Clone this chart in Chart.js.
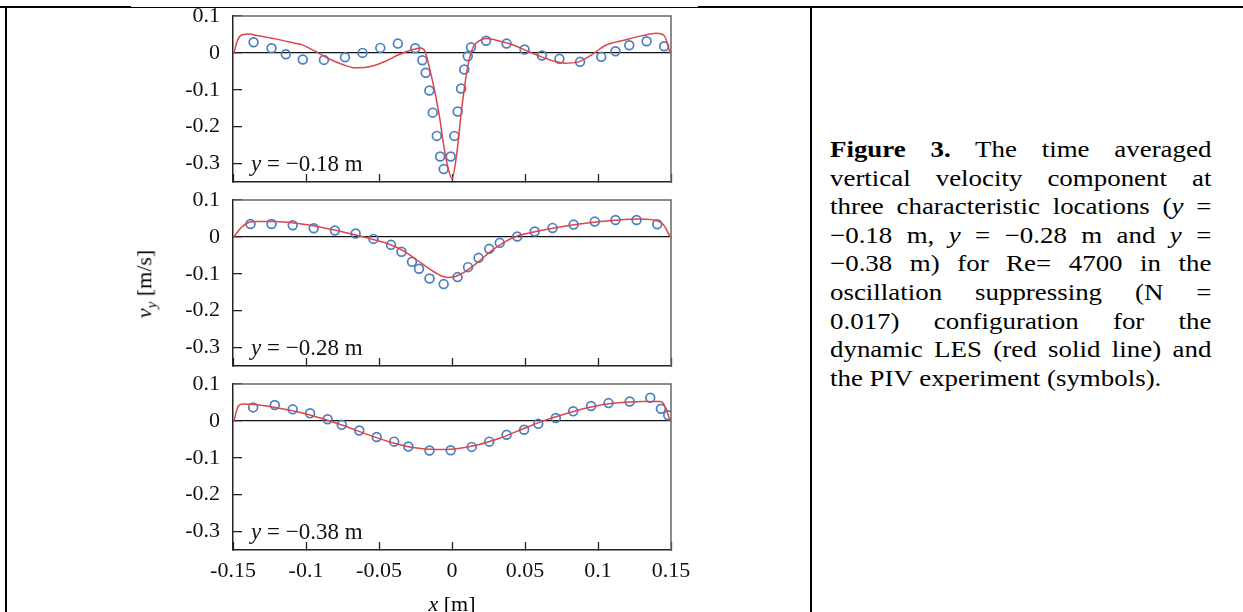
<!DOCTYPE html>
<html>
<head>
<meta charset="utf-8">
<title>Figure 3 - time averaged vertical velocity</title>
<script src="https://cdn.jsdelivr.net/npm/chart.js@4.4.1/dist/chart.umd.min.js"></script>
<style>
  html, body { margin: 0; padding: 0; background: #fff; }
  body {
    position: relative; width: 1243px; height: 612px; overflow: hidden;
    font-family: "Liberation Serif", "Times New Roman", serif; color: #000;
  }
  .rule { position: absolute; background: #000; }
  canvas.panel { position: absolute; left: 0; }
  #ylabel {
    position: absolute; left: 146px; top: 284px; font-size: 22px; white-space: nowrap;
    transform: translate(-50%, -50%) rotate(-90deg);
  }
  #xlabel {
    position: absolute; left: 452px; top: 604px; font-size: 22px; white-space: nowrap;
    transform: translate(-50%, -50%);
  }
  #caption {
    position: absolute; left: 830px; top: 136px; width: 326px;
    font-size: 23px; line-height: 28.6px;
    transform: scaleX(1.17); transform-origin: 0 0;
  }
  #caption div { text-align: justify; text-align-last: justify; }
  #caption div.last { text-align-last: left; }
</style>
</head>
<body>

<!-- table borders -->
<div class="rule" style="left:0; top:6px; width:131px; height:2px;"></div>
<div class="rule" style="left:131px; top:7px; width:567px; height:1px;"></div>
<div class="rule" style="left:698px; top:6px; width:545px; height:2px;"></div>
<div class="rule" style="left:5px; top:6px; width:2px; height:606px;"></div>
<div class="rule" style="left:810px; top:6px; width:2px; height:606px;"></div>

<!-- each canvas starts 40px above its plot box (room for the tick label padding) -->
<canvas id="panel1" class="panel" width="720" height="246" style="top:-24px;"></canvas>
<canvas id="panel2" class="panel" width="720" height="246" style="top:160px;"></canvas>
<canvas id="panel3" class="panel" width="720" height="268" style="top:344px;"></canvas>

<div id="ylabel"><i>v</i><sub style="font-size:15px;"><i>y</i></sub> [m/s]</div>
<div id="xlabel"><i>x</i> [m]</div>

<div id="caption">
  <div><b>Figure 3.</b> The time averaged</div>
  <div>vertical velocity component at</div>
  <div>three characteristic locations (<i>y</i> =</div>
  <div>−0.18 m, <i>y</i> = −0.28 m and <i>y</i> =</div>
  <div>−0.38 m) for Re= 4700 in the</div>
  <div>oscillation suppressing (N =</div>
  <div>0.017) configuration for the</div>
  <div>dynamic LES (red solid line) and</div>
  <div class="last">the PIV experiment (symbols).</div>
</div>

<script>
// axis ticks
const xTicks = [-0.15, -0.1, -0.05, 0, 0.05, 0.1, 0.15];
const xTickLabels = ['-0.15', '-0.1', '-0.05', '0', '0.05', '0.1', '0.15'];
const yTicks = [-0.3, -0.2, -0.1, 0, 0.1];
const yTickLabels = ['-0.3', '-0.2', '-0.1', '0', '0.1'];

// y = -0.18 m : LES line and PIV symbols
const lesX1 = [-0.1494, -0.1465, -0.143, -0.139, -0.1336, -0.121, -0.1085, -0.102, -0.0959, -0.0896,
  -0.0833, -0.0739, -0.0675, -0.0645, -0.055, -0.0456, -0.0362, -0.0267, -0.0215, -0.0185,
  -0.015, -0.0116, -0.0085, -0.006, -0.0025, 0, 0.0032, 0.0066, 0.01, 0.0134,
  0.017, 0.0203, 0.0236, 0.033, 0.0425, 0.0519, 0.0613, 0.0708, 0.077, 0.0865,
  0.0959, 0.1053, 0.1179, 0.1305, 0.1399, 0.1453, 0.1494];
const lesY1 = [0, 0.038, 0.05, 0.051, 0.047, 0.038, 0.027, 0.021, 0.009, -0.0045,
  -0.018, -0.033, -0.04, -0.0405, -0.036, -0.0225, -0.0045, 0.009, 0.0135, 0.004,
  -0.048, -0.108, -0.175, -0.243, -0.315, -0.342, -0.275, -0.153, -0.054, 0.006,
  0.028, 0.036, 0.0387, 0.0315, 0.0207, 0.0045, -0.0108, -0.0234, -0.028, -0.0243,
  -0.0045, 0.0207, 0.0342, 0.0468, 0.053, 0.047, 0];
const pivX1 = [-0.1359, -0.1236, -0.1138, -0.1022, -0.0877, -0.0733, -0.0613, -0.0491, -0.0371, -0.0252,
  -0.0203, -0.018, -0.0155, -0.0132, -0.0104, -0.0081, -0.0057, -0.0009, 0.0016, 0.0039,
  0.0062, 0.0084, 0.0108, 0.013, 0.0233, 0.0374, 0.0497, 0.0616, 0.0736, 0.0877,
  0.1022, 0.112, 0.1214, 0.1333, 0.1453];
const pivY1 = [0.0288, 0.0126, -0.0036, -0.018, -0.019, -0.0117, 0, 0.0135, 0.0252, 0.0126,
  -0.02, -0.054, -0.102, -0.162, -0.225, -0.281, -0.315, -0.281, -0.225, -0.159,
  -0.0965, -0.045, -0.009, 0.015, 0.033, 0.0252, 0.009, -0.0072, -0.0162, -0.0243,
  -0.0108, 0.0045, 0.0207, 0.0315, 0.018];

// y = -0.28 m
const lesX2 = [-0.1494, -0.1447, -0.14, -0.1336, -0.121, -0.1053, -0.0896, -0.0739, -0.0582, -0.0425,
  -0.033, -0.0236, -0.0142, -0.0079, -0.0031, 0.0016, 0.0079, 0.0173, 0.0267, 0.0362,
  0.0456, 0.0582, 0.0739, 0.0928, 0.1116, 0.1274, 0.1368, 0.1447, 0.1494];
const lesY2 = [0, 0.0243, 0.0378, 0.0414, 0.0414, 0.036, 0.026, 0.0126, -0.0027, -0.0207,
  -0.0387, -0.064, -0.09, -0.1045, -0.11, -0.108, -0.097, -0.07, -0.0387, -0.0135,
  0.0036, 0.0153, 0.027, 0.0378, 0.045, 0.0486, 0.0468, 0.0333, 0];
const pivX2 = [-0.138, -0.1236, -0.1091, -0.0947, -0.0802, -0.066, -0.0538, -0.0418, -0.0346, -0.0274,
  -0.0226, -0.0154, -0.0057, 0.0038, 0.011, 0.0182, 0.0255, 0.0327, 0.0447, 0.0566,
  0.0689, 0.0833, 0.0978, 0.112, 0.1264, 0.1406];
const pivY2 = [0.035, 0.035, 0.0315, 0.0234, 0.0171, 0.009, -0.0054, -0.0216, -0.0405, -0.0676,
  -0.0865, -0.1126, -0.128, -0.109, -0.082, -0.0568, -0.0324, -0.0162, 0.0009, 0.0144,
  0.0243, 0.0333, 0.0414, 0.0459, 0.0459, 0.0342];

// y = -0.38 m
const lesX3 = [-0.1494, -0.1462, -0.1431, -0.1336, -0.1211, -0.1053, -0.0896, -0.0739, -0.0582, -0.0425,
  -0.0267, -0.011, 0.0016, 0.0173, 0.033, 0.0487, 0.0645, 0.0802, 0.0959, 0.1116,
  0.1305, 0.1431, 0.1462, 0.1494];
const lesY3 = [0, 0.041, 0.0455, 0.0438, 0.0366, 0.0241, 0.0071, -0.0134, -0.0366, -0.0571,
  -0.0723, -0.0777, -0.0759, -0.0652, -0.0464, -0.0214, 0.0027, 0.0223, 0.0384, 0.0482,
  0.0527, 0.0527, 0.0366, 0];
const pivX3 = [-0.1362, -0.1214, -0.1091, -0.0972, -0.0852, -0.0755, -0.0635, -0.0516, -0.0396, -0.0299,
  -0.0154, -0.0009, 0.0135, 0.0255, 0.0374, 0.0494, 0.0591, 0.0711, 0.083, 0.0953,
  0.1072, 0.1217, 0.1358, 0.1431, 0.1481];
const pivY3 = [0.0366, 0.0429, 0.0313, 0.0205, 0.0045, -0.0107, -0.0259, -0.0438, -0.0563, -0.0696,
  -0.0804, -0.0795, -0.0705, -0.0563, -0.0375, -0.0241, -0.008, 0.008, 0.0259, 0.0402,
  0.0482, 0.0527, 0.0625, 0.033, 0.0152];

const serif = '"Liberation Serif", "Times New Roman", serif';
const PAD = 40;      // space above the plot box inside each canvas
const BOX_H = 166;   // plot box height

// top/right frame edges + the "y = ..." label inside each panel
const framePlugin = {
  id: 'frame',
  afterDraw(chart, args, opts) {
    const ctx = chart.ctx;
    const a = chart.chartArea;
    ctx.save();
    ctx.strokeStyle = '#666';
    ctx.lineWidth = 1.5;
    ctx.beginPath();
    ctx.moveTo(a.left, a.top);
    ctx.lineTo(a.right, a.top);
    ctx.lineTo(a.right, a.bottom);
    ctx.stroke();

    const x0 = a.left + 18;
    const y0 = a.bottom - 17;
    ctx.fillStyle = '#111';
    ctx.textBaseline = 'middle';
    ctx.font = 'italic 23px ' + serif;
    ctx.fillText('y', x0, y0);
    const w = ctx.measureText('y').width;
    ctx.font = '23px ' + serif;
    ctx.fillText(' = ' + opts.label, x0 + w, y0);
    ctx.restore();
  }
};

function toPoints(xs, ys) {
  return xs.map((x, i) => ({ x: x, y: ys[i] }));
}

function makePanel(id, lesX, lesY, pivX, pivY, label, showXLabels) {
  const canvas = document.getElementById(id);
  const xAxisHeight = canvas.height - PAD - BOX_H;

  return new Chart(canvas, {
    data: {
      datasets: [
        {
          type: 'line',
          label: 'LES',
          data: toPoints(lesX, lesY),
          borderColor: '#dc454c',
          borderWidth: 1.5,
          pointRadius: 0,
          cubicInterpolationMode: 'monotone',
          fill: false
        },
        {
          type: 'scatter',
          label: 'PIV',
          data: toPoints(pivX, pivY),
          borderColor: '#4a7fc1',
          backgroundColor: 'rgba(0,0,0,0)',
          borderWidth: 1.7,
          pointRadius: 4.4,
          pointStyle: 'circle'
        }
      ]
    },
    options: {
      responsive: false,
      animation: false,
      events: [],
      layout: { padding: { left: 0, top: PAD, right: 49, bottom: 0 } },
      plugins: {
        legend: { display: false },
        tooltip: { enabled: false },
        frame: { label: label }
      },
      scales: {
        x: {
          type: 'linear',
          min: -0.15,
          max: 0.15,
          afterBuildTicks: function (scale) {
            scale.ticks = xTicks.map(v => ({ value: v }));
          },
          afterFit: function (scale) {
            scale.height = xAxisHeight;
          },
          grid: { drawOnChartArea: false, tickLength: -8, tickColor: '#222', tickWidth: 1.3 },
          border: { color: '#222', width: 1.5 },
          ticks: {
            display: showXLabels,
            autoSkip: false,
            maxRotation: 0,
            padding: 16,
            color: '#111',
            font: { family: serif, size: 22 },
            callback: v => xTickLabels[xTicks.indexOf(v)]
          }
        },
        y: {
          type: 'linear',
          min: -0.35,
          max: 0.1,
          afterBuildTicks: function (scale) {
            scale.ticks = yTicks.map(v => ({ value: v }));
          },
          afterFit: function (scale) {
            scale.width = 233;
          },
          grid: {
            color: c => (c.tick && c.tick.value === 0 ? '#111' : 'rgba(0,0,0,0)'),
            lineWidth: 1.3,
            tickLength: -9,
            tickColor: '#222',
            tickWidth: 1.3
          },
          border: { color: '#222', width: 1.5 },
          ticks: {
            padding: 22,
            color: '#111',
            font: { family: serif, size: 22 },
            callback: v => yTickLabels[yTicks.indexOf(v)]
          }
        }
      }
    },
    plugins: [framePlugin]
  });
}

makePanel('panel1', lesX1, lesY1, pivX1, pivY1, '−0.18 m', false);
makePanel('panel2', lesX2, lesY2, pivX2, pivY2, '−0.28 m', false);
makePanel('panel3', lesX3, lesY3, pivX3, pivY3, '−0.38 m', true);
</script>
</body>
</html>
